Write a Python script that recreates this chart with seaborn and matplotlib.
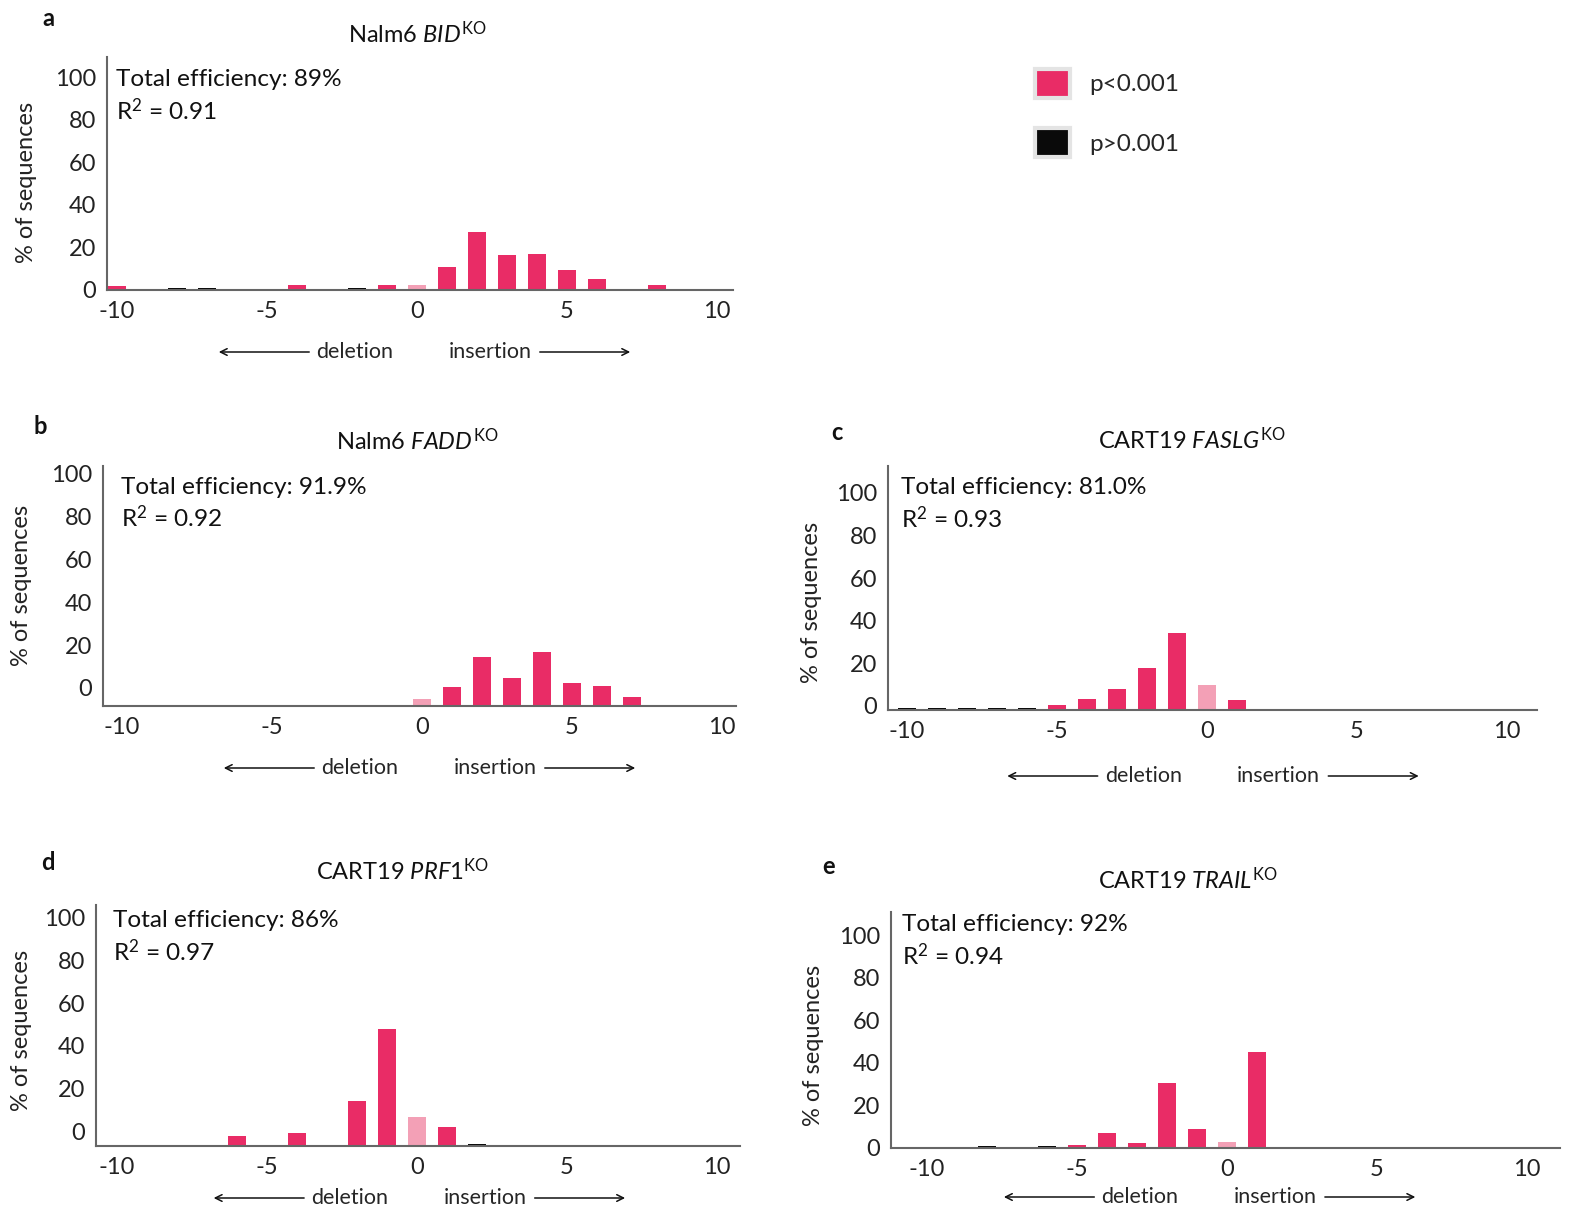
import matplotlib
matplotlib.use("Agg")
import matplotlib.pyplot as plt
import matplotlib.transforms as mtransforms
from matplotlib.patches import Patch
import pandas as pd
import seaborn as sns

# ---- data ----
a_pos = [-10, -9, -8, -7, -4, -2, -1, 0, 1, 2, 3, 4, 5, 6, 8]
a_val = [1.7, 0.5, 1.0, 1.0, 2.2, 1.0, 2.2, 2.2, 10.6, 27.0, 16.4, 16.9, 9.2, 5.2, 2.2]
a_cls = ["sig", "ns", "ns", "ns", "sig", "ns", "sig", "wt", "sig", "sig", "sig", "sig", "sig", "sig", "sig"]

b_pos = [0, 1, 2, 3, 4, 5, 6, 7, 8]
b_val = [3.1, 8.9, 22.7, 12.9, 25.0, 10.7, 9.3, 4.0, 0.6]
b_cls = ["wt", "sig", "sig", "sig", "sig", "sig", "sig", "sig", "ns"]

c_pos = [-10, -9, -8, -7, -6, -5, -4, -3, -2, -1, 0, 1]
c_val = [0.8, 0.8, 0.8, 0.8, 0.8, 2.3, 5.2, 9.8, 19.7, 36.0, 11.9, 4.7]
c_cls = ["ns", "ns", "ns", "ns", "ns", "sig", "sig", "sig", "sig", "sig", "wt", "sig"]

d_pos = [-6, -4, -3, -2, -1, 0, 1, 2]
d_val = [4.5, 6.3, 0.6, 21.0, 55.0, 13.6, 8.8, 0.9]
d_cls = ["sig", "sig", "ns", "sig", "sig", "wt", "sig", "ns"]

e_pos = [-8, -6, -5, -4, -3, -2, -1, 0, 1]
e_val = [1.0, 0.8, 1.3, 6.9, 2.5, 30.4, 8.8, 2.7, 45.0]
e_cls = ["ns", "ns", "sig", "sig", "sig", "sig", "sig", "wt", "sig"]

titles = ["Nalm6 $\\mathit{BID}^{\\mathrm{KO}}$",
          "Nalm6 $\\mathit{FADD}^{\\mathrm{KO}}$",
          "CART19 $\\mathit{FASLG}^{\\mathrm{KO}}$",
          "CART19 $\\mathit{PRF1}^{\\mathrm{KO}}$",
          "CART19 $\\mathit{TRAIL}^{\\mathrm{KO}}$"]
efficiency = ["89%", "91.9%", "81.0%", "86%", "92%"]
r2 = ["0.91", "0.92", "0.93", "0.97", "0.94"]
letters = ["a", "b", "c", "d", "e"]
legend_labels = ["p<0.001", "p>0.001"]

palette = {"sig": "#E92C66", "ns": "#0a0a0a", "wt": "#F3A0B6"}

sns.set_theme(style="white")
plt.rcParams["font.family"] = ["Lato", "DejaVu Sans"]
plt.rcParams["mathtext.fontset"] = "custom"
plt.rcParams["mathtext.rm"] = "Lato"
plt.rcParams["mathtext.it"] = "Lato:italic"

W, H = 1570, 1213
fig = plt.figure(figsize=(W / 100, H / 100), dpi=100)

# layout in pixels: left, top, right, baseline
boxes = [(107, 57, 733, 290), (103, 466, 736, 706), (888, 466, 1537, 710),
         (96, 905, 740, 1146), (891, 912, 1560, 1148)]
x0_px = [417, 422, 1207, 417, 1227]
ytop = [109.4, 112, 114.5, 113, 110.8]
ytick_shift = [0, 18, 4, 15, 0]
text_y = [(0.905, 0.768), (0.9125, 0.783), (0.91, 0.783), (0.934, 0.805), (0.949, 0.814)]
text_x = [9, 18, 13, 17, 11]
ylab = [(-0.112, 0.46), (-0.112, 0.504), (-0.102, 0.44), (-0.099, 0.48), (-0.1, 0.436)]
arrow_off = [62, 62, 66, 52, 49]
arrow_dx = [0, 0, -0.05, -0.17, -0.83]
title_xy = [(417, 34), (417, 441), (1192, 440), (402, 871), (1188, 880)]
letter_xy = [(48, 18), (40, 427), (837, 433), (48, 863), (829, 867)]

data = [(a_pos, a_val, a_cls), (b_pos, b_val, b_cls), (c_pos, c_val, c_cls),
        (d_pos, d_val, d_cls), (e_pos, e_val, e_cls)]

for i, (pos, val, cls) in enumerate(data):
    l, t, r, b = boxes[i]
    ax = fig.add_axes([l / W, (H - b) / H, (r - l) / W, (b - t) / H])
    df = pd.DataFrame({"indel": pos, "pct": val, "cls": cls})
    sns.barplot(data=df, x="indel", y="pct", hue="cls", palette=palette, saturation=1,
                native_scale=True, dodge=False, width=0.58, legend=False,
                ax=ax, edgecolor="none")
    ax.set_xlim((l - x0_px[i]) / 30, (r - x0_px[i]) / 30)
    ax.set_ylim(0, ytop[i])
    ax.set_xticks([-10, -5, 0, 5, 10])
    ax.set_xticklabels(["-10", "-5", "0", "5", "10"])
    ax.set_yticks([0, 20, 40, 60, 80, 100])
    ax.tick_params(axis="both", length=0, labelsize=17, colors="#222222", pad=8)
    # the y labels in some panels sit a little above the bar baseline
    shift = mtransforms.ScaledTranslation(0, ytick_shift[i] / 100, fig.dpi_scale_trans)
    for lab in ax.get_yticklabels():
        lab.set_transform(lab.get_transform() + shift)
    ax.set_xlabel("")
    ax.set_ylabel("% of sequences", fontsize=17, color="#222222")
    ax.yaxis.set_label_coords(*ylab[i])
    for s in ["top", "right"]:
        ax.spines[s].set_visible(False)
    for s in ["left", "bottom"]:
        ax.spines[s].set_color("#666666")
        ax.spines[s].set_linewidth(1.5)

    tx = text_x[i] / (r - l)
    ax.text(tx, text_y[i][0], f"Total efficiency: {efficiency[i]}", transform=ax.transAxes,
            fontsize=17.6, va="center", ha="left", color="#111111")
    ax.text(tx, text_y[i][1], f"R$^{{2}}$ = {r2[i]}", transform=ax.transAxes,
            fontsize=17.6, va="center", ha="left", color="#111111")

    # deletion / insertion arrows
    tr = mtransforms.offset_copy(ax.get_xaxis_transform(), fig=fig, y=-arrow_off[i], units="dots")
    dx = arrow_dx[i]
    ax.annotate("", xy=(-6.7 + dx, 0), xytext=(-3.5 + dx, 0), xycoords=tr, textcoords=tr,
                arrowprops=dict(arrowstyle="->", lw=1.1, color="#111111"), annotation_clip=False)
    ax.annotate("", xy=(7.2 + dx, 0), xytext=(4.0 + dx, 0), xycoords=tr, textcoords=tr,
                arrowprops=dict(arrowstyle="->", lw=1.1, color="#111111"), annotation_clip=False)
    ax.text(-2.07 + dx, 0, "deletion", transform=tr, ha="center", va="center", fontsize=15.5)
    ax.text(2.43 + dx, 0, "insertion", transform=tr, ha="center", va="center", fontsize=15.5)

    fig.text(title_xy[i][0] / W, 1 - title_xy[i][1] / H, titles[i], ha="center", va="center",
             fontsize=17, color="#111111")
    fig.text(letter_xy[i][0] / W, 1 - letter_xy[i][1] / H, letters[i], ha="center", va="center",
             fontsize=17, fontweight="bold", color="#111111")

handles = [Patch(facecolor=palette["sig"], edgecolor="#e4e4e4", linewidth=3),
           Patch(facecolor=palette["ns"], edgecolor="#e4e4e4", linewidth=3)]
fig.legend(handles, legend_labels, loc="upper left", bbox_to_anchor=(1013 / W, 1 - 47 / H),
           frameon=False, fontsize=17.5, handlelength=1.45, handleheight=1.45,
           labelspacing=1.25, handletextpad=0.8)

fig.savefig("out.png", dpi=100)
